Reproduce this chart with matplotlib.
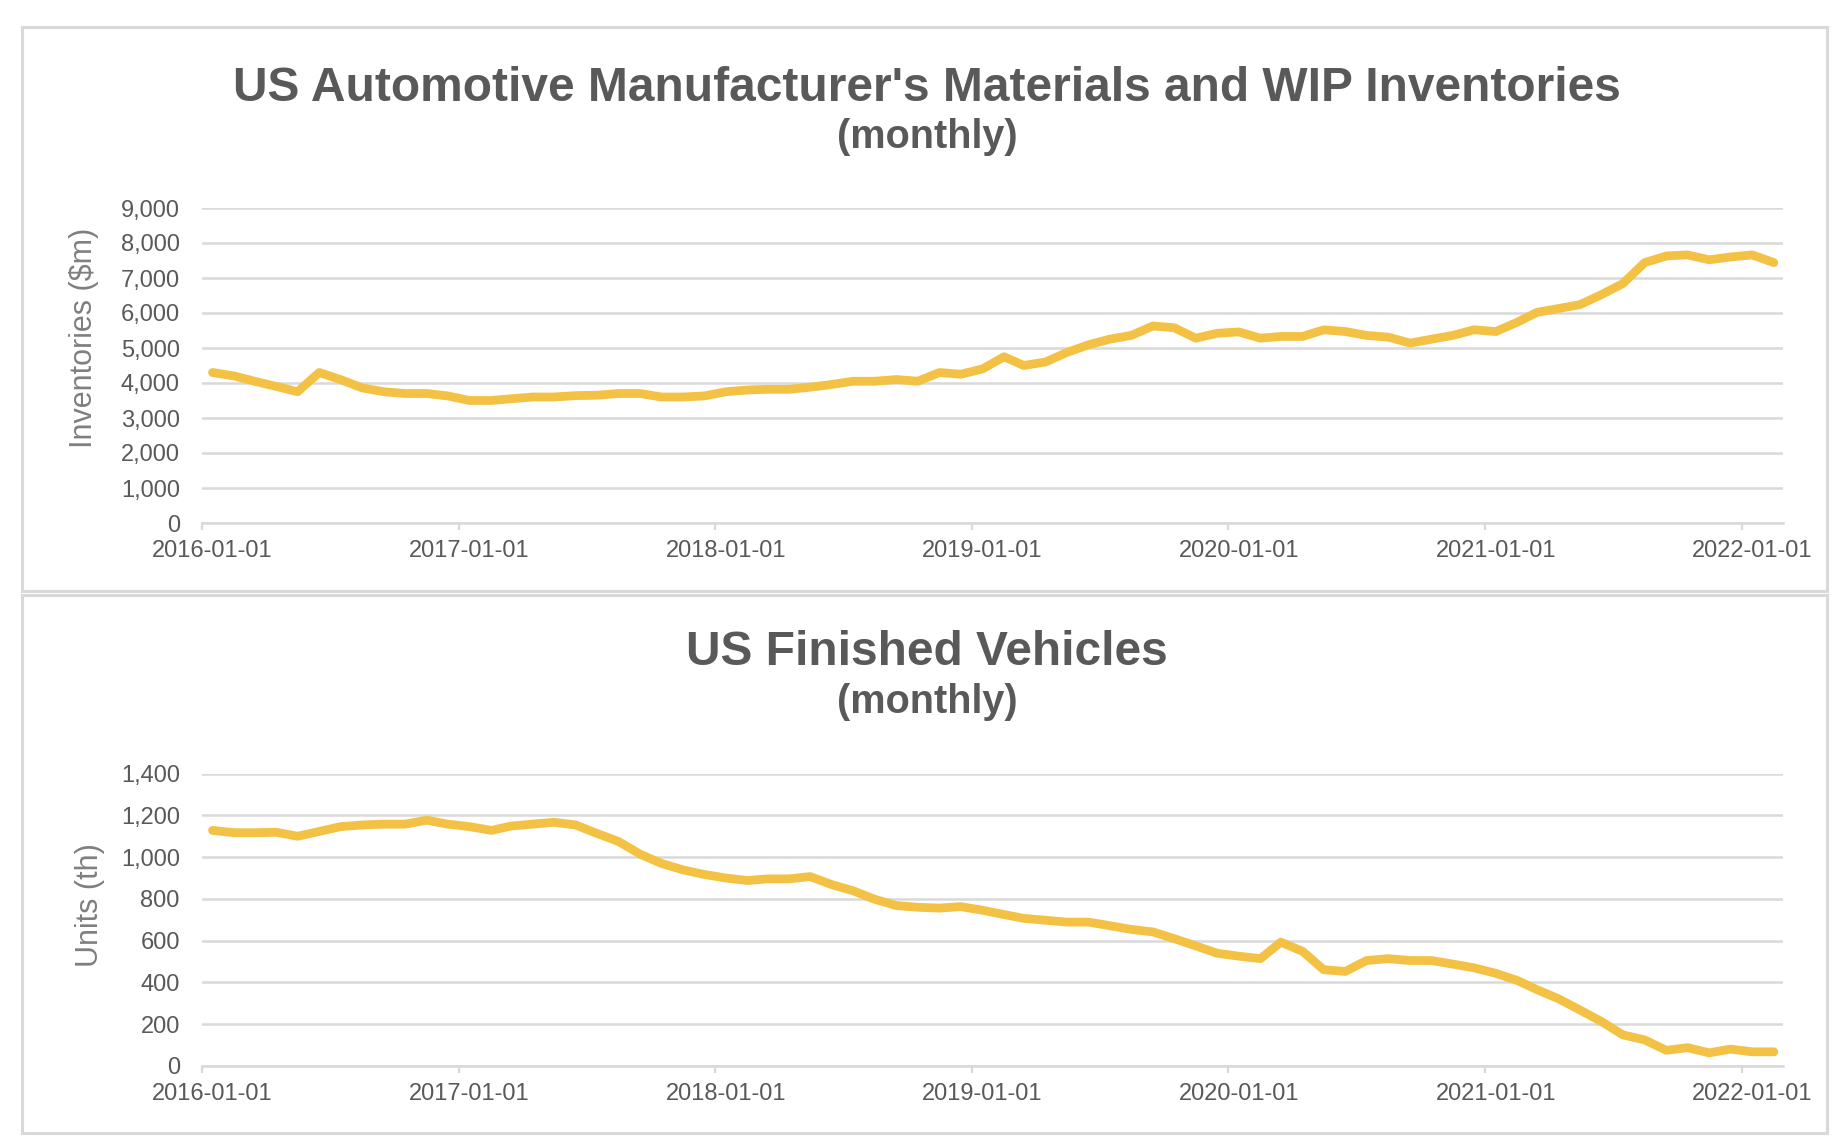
import matplotlib
matplotlib.use('Agg')
import matplotlib.pyplot as plt
import matplotlib.ticker as mticker
from matplotlib.patches import Rectangle
import pandas as pd

plt.rcParams['font.family'] = ['Liberation Sans', 'Arial', 'DejaVu Sans']

# ---------------- data ----------------
months = pd.date_range('2016-01-01', periods=74, freq='MS')

materials_wip = [
    4300, 4200, 4050, 3900, 3750, 4300, 4100, 3860, 3750, 3700, 3700, 3630,  # 2016
    3500, 3500, 3550, 3600, 3600, 3640, 3650, 3700, 3700, 3600, 3600, 3630,  # 2017
    3750, 3800, 3820, 3820, 3880, 3960, 4050, 4050, 4100, 4050, 4300, 4250,  # 2018
    4400, 4750, 4500, 4600, 4870, 5090, 5250, 5360, 5630, 5580, 5280, 5420,  # 2019
    5460, 5280, 5330, 5330, 5520, 5470, 5360, 5310, 5140, 5250, 5360, 5520,  # 2020
    5470, 5740, 6020, 6130, 6240, 6530, 6840, 7440, 7630, 7660, 7520, 7600,  # 2021
    7660, 7440,                                                              # 2022
]

finished_vehicles = [
    1128, 1117, 1117, 1119, 1100, 1123, 1146, 1154, 1158, 1158, 1177, 1158,  # 2016
    1146, 1128, 1149, 1158, 1167, 1154, 1114, 1075, 1014, 970, 939, 917,     # 2017
    900, 888, 896, 896, 907, 868, 839, 798, 768, 760, 756, 763,              # 2018
    746, 725, 707, 698, 689, 689, 672, 654, 642, 610, 575, 540,              # 2019
    526, 514, 593, 549, 461, 453, 505, 514, 505, 505, 488, 470,              # 2020
    444, 409, 365, 321, 268, 212, 149, 125, 75, 88, 63, 81,                  # 2021
    68, 68,                                                                  # 2022
]

tick_labels = ['2016-01-01', '2017-01-01', '2018-01-01', '2019-01-01',
               '2020-01-01', '2021-01-01', '2022-01-01']

top_title = "US Automotive Manufacturer's Materials and WIP Inventories"
bottom_title = "US Finished Vehicles"
subtitle = "(monthly)"
top_ylabel = "Inventories (\\$m)"
bottom_ylabel = "Units (th)"

# ---------------- style ----------------
LINE = '#F3C143'
GRID = '#D9D9D9'
TEXT = '#595959'
LABEL = '#7F7F7F'

W, H = 1844, 1148
fig = plt.figure(figsize=(W / 100, H / 100), dpi=100)
fig.patch.set_facecolor('white')


def fx(px):
    return px / W


def fy(py):
    return 1 - py / H


# panel borders
for (top, bot) in [(27, 591), (595, 1133)]:
    fig.add_artist(Rectangle((fx(22), fy(bot)), fx(1827) - fx(22), (bot - top) / H,
                             transform=fig.transFigure, fill=False,
                             edgecolor=GRID, lw=2.2))

mid = months + pd.Timedelta(days=15)
tick_pos = pd.to_datetime(tick_labels)
label_pos = tick_pos + pd.Timedelta(days=15)


def style_axis(ax, values, ymax, ystep):
    ax.plot(mid, values, color=LINE, lw=6.3, solid_joinstyle='round',
            solid_capstyle='round', zorder=3)
    ax.set_xlim(pd.Timestamp('2016-01-01'), pd.Timestamp('2022-03-01'))
    ax.set_ylim(0, ymax)
    ax.yaxis.set_major_locator(mticker.MultipleLocator(ystep))
    ax.yaxis.set_major_formatter(mticker.FuncFormatter(lambda v, p: f'{v:,.0f}'))
    ax.grid(axis='y', color=GRID, lw=1.8)
    ax.set_axisbelow(True)
    for s in ['top', 'right', 'left']:
        ax.spines[s].set_visible(False)
    ax.spines['bottom'].set_color(GRID)
    ax.spines['bottom'].set_linewidth(1.8)
    ax.set_xticks(tick_pos)
    ax.set_xticklabels([])
    ax.set_xticks(label_pos, minor=True)
    ax.set_xticklabels(tick_labels, minor=True)
    ax.tick_params(axis='x', which='major', length=5, width=1.6, color=GRID)
    ax.tick_params(axis='x', which='minor', length=0, pad=12,
                   labelsize=17, labelcolor=TEXT)
    ax.tick_params(axis='y', length=0, pad=16, labelsize=17, labelcolor=TEXT)
    ax.set_facecolor('none')


ax1 = fig.add_axes([fx(202), fy(523), (1783 - 202) / W, (523 - 208) / H])
style_axis(ax1, materials_wip, 9000, 1000)

ax2 = fig.add_axes([fx(202), fy(1066), (1783 - 202) / W, (1066 - 773.6) / H])
style_axis(ax2, finished_vehicles, 1400, 200)

# titles
fig.text(fx(927), fy(101), top_title, ha='center', va='baseline',
         fontsize=34.5, fontweight='bold', color=TEXT)
fig.text(fx(927), fy(148), subtitle, ha='center', va='baseline',
         fontsize=28.5, fontweight='bold', color=TEXT)
fig.text(fx(927), fy(665), bottom_title, ha='center', va='baseline',
         fontsize=34.5, fontweight='bold', color=TEXT)
fig.text(fx(927), fy(713), subtitle, ha='center', va='baseline',
         fontsize=28.5, fontweight='bold', color=TEXT)

# y labels
fig.text(fx(84), fy(338), top_ylabel, rotation=90, ha='center', va='center',
         fontsize=22, color=LABEL)
fig.text(fx(90), fy(905), bottom_ylabel, rotation=90, ha='center', va='center',
         fontsize=22, color=LABEL)

fig.savefig('out.png', dpi=100, facecolor='white')
